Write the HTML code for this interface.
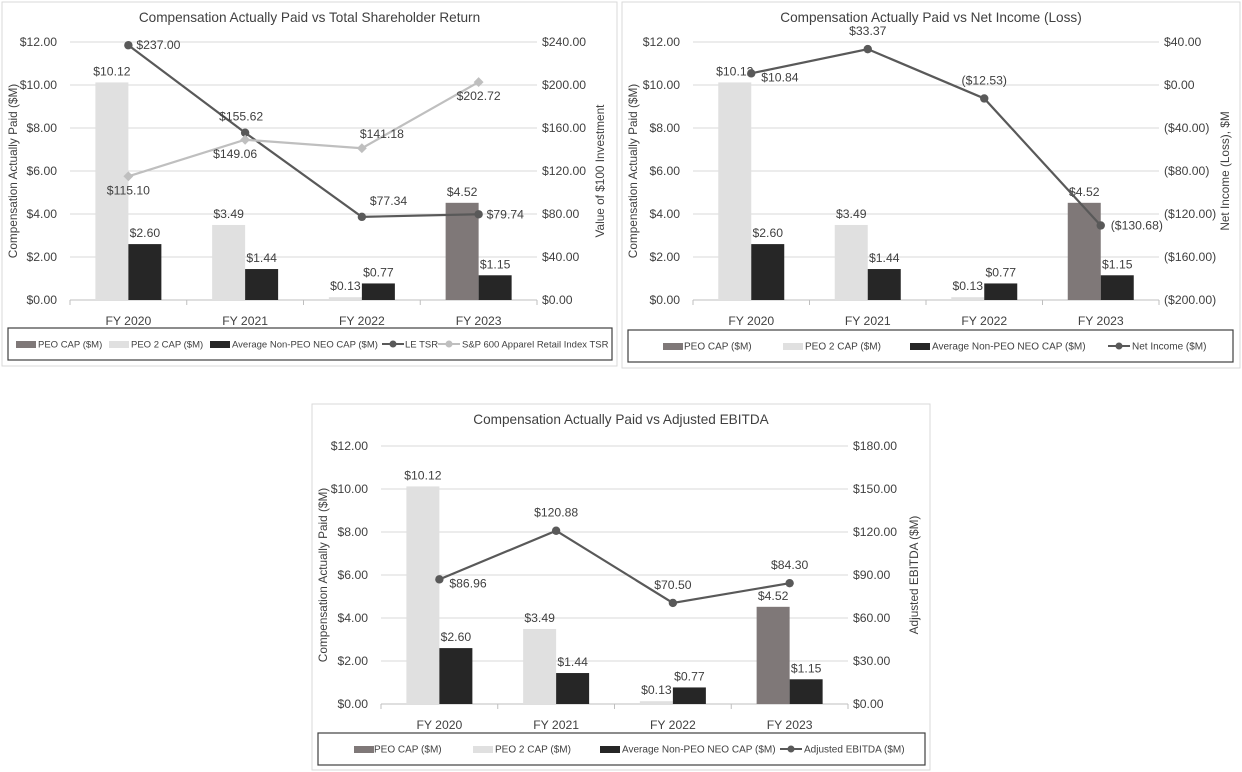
<!DOCTYPE html>
<html><head><meta charset="utf-8">
<style>
body{margin:0;background:#fff;width:1242px;height:772px;overflow:hidden;font-family:"Liberation Sans",sans-serif;}
svg{position:absolute;left:0;top:0}
text{font-family:"Liberation Sans",sans-serif;fill:#404040}
</style></head>
<body>
<svg id="svg" width="1242" height="772"></svg>
<script>
const categories=["FY 2020","FY 2021","FY 2022","FY 2023"];
const peoCap=[0,0,0,4.52];
const peo2Cap=[10.12,3.49,0.13,0];
const nonPeoCap=[2.60,1.44,0.77,1.15];
const leTsr=[237.00,155.62,77.34,79.74];
const spTsr=[115.10,149.06,141.18,202.72];
const netIncome=[10.84,33.37,-12.53,-130.68];
const adjEbitda=[86.96,120.88,70.50,84.30];
const leftTicks=[0,2,4,6,8,10,12];
const tsrTicks=[0,40,80,120,160,200,240];
const niTicks=[-200,-160,-120,-80,-40,0,40];
const ebTicks=[0,30,60,90,120,150,180];

const NS="http://www.w3.org/2000/svg";
const svg=document.getElementById('svg');
function el(tag,attrs,parent,txt){const e=document.createElementNS(NS,tag);if(tag==='text'&&!attrs['font-size'])attrs['font-size']='12.2';for(const k in attrs)e.setAttribute(k,attrs[k]);if(txt!==undefined)e.textContent=txt;(parent||svg).appendChild(e);return e;}
function money(v){return v<0?'($'+Math.abs(v).toFixed(2)+')':'$'+v.toFixed(2);}

function chart(cfg){
  const g=el('g',{});
  
  
  const p=el('rect',{x:cfg.px,y:cfg.py,width:cfg.pw,height:cfg.ph,fill:'#fff',stroke:'#d9d9d9'},g);
  
  const L=cfg.l,R=cfg.r,T=cfg.t,B=cfg.b;
  const t=el('text',{x:(cfg.px+cfg.pw/2),y:cfg.py+20,'text-anchor':'middle','font-size':'13.6',fill:'#505050'},g,cfg.title);
  
  const yL=v=>B-(v-0)/(12)*(B-T);
  const rMin=cfg.rt[0],rMax=cfg.rt[cfg.rt.length-1];
  const yR=v=>B-(v-rMin)/(rMax-rMin)*(B-T);
  const bw=(R-L)/categories.length;
  const xC=i=>L+bw*(i+0.5);
  leftTicks.forEach(v=>{
    if(v>0){const gl=el('line',{x1:L,x2:R,y1:yL(v),y2:yL(v),stroke:'#d9d9d9'},g);}
    const tx=el('text',{x:L-13,y:yL(v)+4,'text-anchor':'end'},g,'$'+v.toFixed(2));
    
  });
  cfg.rt.forEach(v=>{
    const tx=el('text',{x:R+5,y:yR(v)+4},g,money(v));
    
  });
  el('line',{x1:L,x2:R,y1:B,y2:B,stroke:'#bfbfbf'},g);
  for(let i=0;i<=categories.length;i++)el('line',{x1:L+bw*i,x2:L+bw*i,y1:B,y2:B+5,stroke:'#bfbfbf'},g);
  const ya=el('text',{transform:`translate(${cfg.px+15},${(T+B)/2}) rotate(-90)`,'text-anchor':'middle','font-size':'11.8'},g,'Compensation Actually Paid ($M)');
  
  const yr=el('text',{transform:`translate(${cfg.rAxisX},${(T+B)/2}) rotate(-90)`,'text-anchor':'middle','font-size':'11.8'},g,cfg.rTitle);
  
  const w=33;
  categories.forEach((c,i)=>{
    const cx=xC(i);
    const cl=el('text',{x:cx,y:B+25,'text-anchor':'middle'},g,c);
    
    let first, fv;
    if(peoCap[i]>0){first='#7f7878';fv=peoCap[i];}else{first='#e0e0e0';fv=peo2Cap[i];}
    const b1=el('rect',{x:cx-w,y:yL(fv),width:w,height:B-yL(fv),fill:first},g);
    
    const l1=el('text',{x:cx-w/2,y:yL(fv)-7,'text-anchor':'middle'},g,money(fv));
    
    const b2=el('rect',{x:cx,y:yL(nonPeoCap[i]),width:w,height:B-yL(nonPeoCap[i]),fill:'#262626'},g);
    
    const l2=el('text',{x:cx+w/2,y:yL(nonPeoCap[i])-7,'text-anchor':'middle'},g,money(nonPeoCap[i]));
    
  });
  cfg.lines.forEach(ln=>{
    const pts=ln.data.map((v,i)=>[xC(i),yR(v)]);
    const pl=el('polyline',{points:pts.map(p=>p.join(',')).join(' '),fill:'none',stroke:ln.color,'stroke-width':2.2},g);
    
    pts.forEach((p,i)=>{
      let m;
      if(ln.diamond)m=el('rect',{x:p[0]-3.5,y:p[1]-3.5,width:7,height:7,fill:ln.color,transform:`rotate(45 ${p[0]} ${p[1]})`},g);
      else m=el('circle',{cx:p[0],cy:p[1],r:4.2,fill:ln.color},g);
      
      const o=ln.off[i];
      const lt=el('text',{x:p[0]+o[0],y:p[1]+o[1],'text-anchor':o[2]},g,money(ln.data[i]));
      
    });
  });
  const lb=el('rect',{x:cfg.lx,y:cfg.ly,width:cfg.lw,height:32,fill:'#fff',stroke:'#404040','stroke-width':1.2},g);
  
  cfg.legend.forEach(it=>{
    const yy=cfg.ly+16;
    let s;
    if(it.type==='bar')s=el('rect',{x:it.x,y:yy-3,width:20,height:7,fill:it.color},g);
    else{s=el('line',{x1:it.x,x2:it.x+22,y1:yy,y2:yy,stroke:it.color,'stroke-width':2},g);el('circle',{cx:it.x+11,cy:yy,r:3.5,fill:it.color},g);}
    
    const lt=el('text',{x:it.tx,y:yy+3.5,'font-size':cfg.lfs||'9.5',fill:'#595959'},g,it.label);
    
  });
}
chart({name:'chart-tsr',px:2,py:2,pw:615,ph:364,l:70,r:537,t:42,b:300,title:'Compensation Actually Paid vs Total Shareholder Return',
 rt:tsrTicks,rTitle:'Value of $100 Investment',rAxisX:604,
 lines:[{name:'line-le-tsr',color:'#595959',data:leTsr,off:[[8,4,'start'],[-4,-12,'middle'],[8,-12,'start'],[8,4,'start']]},
        {name:'line-sp-tsr',color:'#bfbfbf',diamond:true,data:spTsr,off:[[0,18,'middle'],[-10,18,'middle'],[20,-10,'middle'],[0,18,'middle']]}],
 lx:8,ly:328,lw:604,lfs:'9.5',
 legend:[{type:'bar',x:16,tx:38,color:'#7f7878',label:'PEO CAP ($M)'},{type:'bar',x:109,tx:131,color:'#e0e0e0',label:'PEO 2 CAP ($M)'},{type:'bar',x:210,tx:232,color:'#262626',label:'Average Non-PEO NEO CAP ($M)'},{type:'line',x:382,tx:405,color:'#595959',label:'LE TSR'},{type:'line',x:438,tx:462,color:'#bfbfbf',label:'S&P 600 Apparel Retail Index TSR'}]});
chart({name:'chart-net-income',px:622,py:2,pw:618,ph:366,l:693,r:1159,t:42,b:300,title:'Compensation Actually Paid vs Net Income (Loss)',
 rt:niTicks,rTitle:'Net Income (Loss), $M',rAxisX:1229,
 lines:[{name:'line-net-income',color:'#595959',data:netIncome,off:[[10,8,'start'],[0,-14,'middle'],[0,-14,'middle'],[10,4,'start']]}],
 lx:628,ly:330,lw:605,lfs:'10',
 legend:[{type:'bar',x:663,tx:684,color:'#7f7878',label:'PEO CAP ($M)'},{type:'bar',x:783,tx:805,color:'#e0e0e0',label:'PEO 2 CAP ($M)'},{type:'bar',x:910,tx:932,color:'#262626',label:'Average Non-PEO NEO CAP ($M)'},{type:'line',x:1108,tx:1132,color:'#595959',label:'Net Income ($M)'}]});
chart({name:'chart-adjusted-ebitda',px:312,py:404,pw:618,ph:366,l:381,r:848,t:446,b:704,title:'Compensation Actually Paid vs Adjusted EBITDA',
 rt:ebTicks,rTitle:'Adjusted EBITDA ($M)',rAxisX:918,
 lines:[{name:'line-adjusted-ebitda',color:'#595959',data:adjEbitda,off:[[10,8,'start'],[0,-14,'middle'],[0,-14,'middle'],[0,-14,'middle']]}],
 lx:318,ly:733,lw:607,lfs:'10',
 legend:[{type:'bar',x:354,tx:374,color:'#7f7878',label:'PEO CAP ($M)'},{type:'bar',x:473,tx:495,color:'#e0e0e0',label:'PEO 2 CAP ($M)'},{type:'bar',x:600,tx:622,color:'#262626',label:'Average Non-PEO NEO CAP ($M)'},{type:'line',x:780,tx:804,color:'#595959',label:'Adjusted EBITDA ($M)'}]});
</script>
</body></html>
